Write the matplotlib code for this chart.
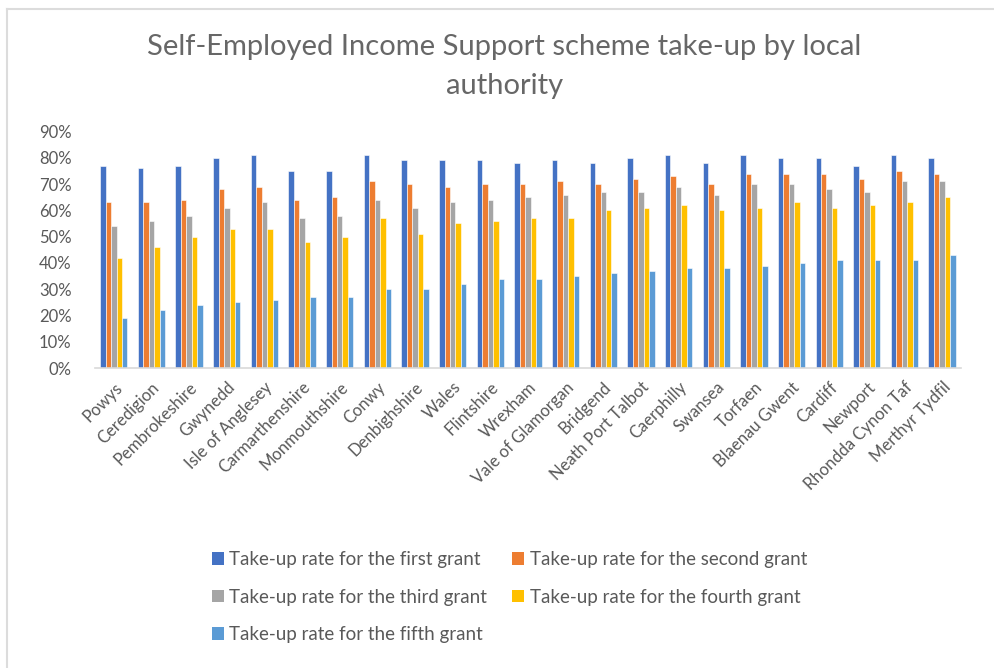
import matplotlib
matplotlib.use("Agg")
import matplotlib.pyplot as plt
from matplotlib.patches import Patch
from matplotlib.lines import Line2D
import numpy as np

plt.rcParams["font.family"] = ["Lato", "DejaVu Sans"]

authorities = [
    "Powys", "Ceredigion", "Pembrokeshire", "Gwynedd", "Isle of Anglesey",
    "Carmarthenshire", "Monmouthshire", "Conwy", "Denbighshire", "Wales",
    "Flintshire", "Wrexham", "Vale of Glamorgan", "Bridgend",
    "Neath Port Talbot", "Caerphilly", "Swansea", "Torfaen", "Blaenau Gwent",
    "Cardiff", "Newport", "Rhondda Cynon Taf", "Merthyr Tydfil",
]
first_grant = [77, 76, 77, 80, 81, 75, 75, 81, 79, 79, 79, 78, 79, 78, 80, 81, 78, 81, 80, 80, 77, 81, 80]
second_grant = [63, 63, 64, 68, 69, 64, 65, 71, 70, 69, 70, 70, 71, 70, 72, 73, 70, 74, 74, 74, 72, 75, 74]
third_grant = [54, 56, 58, 61, 63, 57, 58, 64, 61, 63, 64, 65, 66, 67, 67, 69, 66, 70, 70, 68, 67, 71, 71]
fourth_grant = [42, 46, 50, 53, 53, 48, 50, 57, 51, 55, 56, 57, 57, 60, 61, 62, 60, 61, 63, 61, 62, 63, 65]
fifth_grant = [19, 22, 24, 25, 26, 27, 27, 30, 30, 32, 34, 34, 35, 36, 37, 38, 38, 39, 40, 41, 41, 41, 43]

series = [
    ("Take-up rate for the first grant", first_grant, "#4472C4"),
    ("Take-up rate for the second grant", second_grant, "#ED7D31"),
    ("Take-up rate for the third grant", third_grant, "#A5A5A5"),
    ("Take-up rate for the fourth grant", fourth_grant, "#FFC000"),
    ("Take-up rate for the fifth grant", fifth_grant, "#5B9BD5"),
]

text_grey = "#595959"

fig = plt.figure(figsize=(9.95, 6.68), dpi=100)
ax = fig.add_axes([0.0955, 0.4491, 0.8703, 0.354])

# chart frame, only the top and left edges show
frame_y = 1 - 8.5 / 668
frame_x = 7 / 995
fig.lines.append(Line2D([frame_x, 0.999], [frame_y, frame_y], transform=fig.transFigure,
                        color="#dcdcdc", linewidth=1.5))
fig.lines.append(Line2D([frame_x, frame_x], [0, frame_y], transform=fig.transFigure,
                        color="#dcdcdc", linewidth=1.5))

x = np.arange(len(authorities))
width = 0.145
handles = []
for i, (label, vals, color) in enumerate(series):
    offset = (i - 2) * width
    ax.bar(x + offset, np.array(vals) / 100, width, color=color,
           edgecolor="white", linewidth=0.4, label=label)
    handles.append(Patch(facecolor=color, label=label))

ax.set_xlim(-0.5, len(authorities) - 0.5)
ax.set_ylim(0, 0.9)
yticks = np.arange(0, 0.91, 0.1)
ax.set_yticks(yticks)
ax.set_yticklabels([f"{int(round(v * 100))}%" for v in yticks])
ax.set_xticks(x)
ax.set_xticklabels(authorities, rotation=45, ha="right", rotation_mode="anchor")

for side in ["top", "right", "left"]:
    ax.spines[side].set_visible(False)
ax.spines["bottom"].set_color("#d9d9d9")
ax.spines["bottom"].set_linewidth(1.2)
ax.tick_params(axis="both", length=0, colors=text_grey, labelsize=12)
ax.tick_params(axis="y", pad=17)
ax.tick_params(axis="x", pad=8)

fig.text(0.507, 0.9, "Self-Employed Income Support scheme take-up by local\nauthority",
         ha="center", va="center", fontsize=21, color="#676767", linespacing=1.63)

order = [0, 2, 4, 1, 3]
leg = fig.legend([handles[k] for k in order], [series[k][0] for k in order],
                 loc="center", bbox_to_anchor=(0.512, 0.106), ncol=2,
                 frameon=False, fontsize=13.5, handlelength=0.64, handleheight=0.64,
                 handletextpad=0.3, columnspacing=1.33, labelspacing=1.09)
for t in leg.get_texts():
    t.set_color(text_grey)

fig.savefig("out.png", dpi=100, facecolor="white")
